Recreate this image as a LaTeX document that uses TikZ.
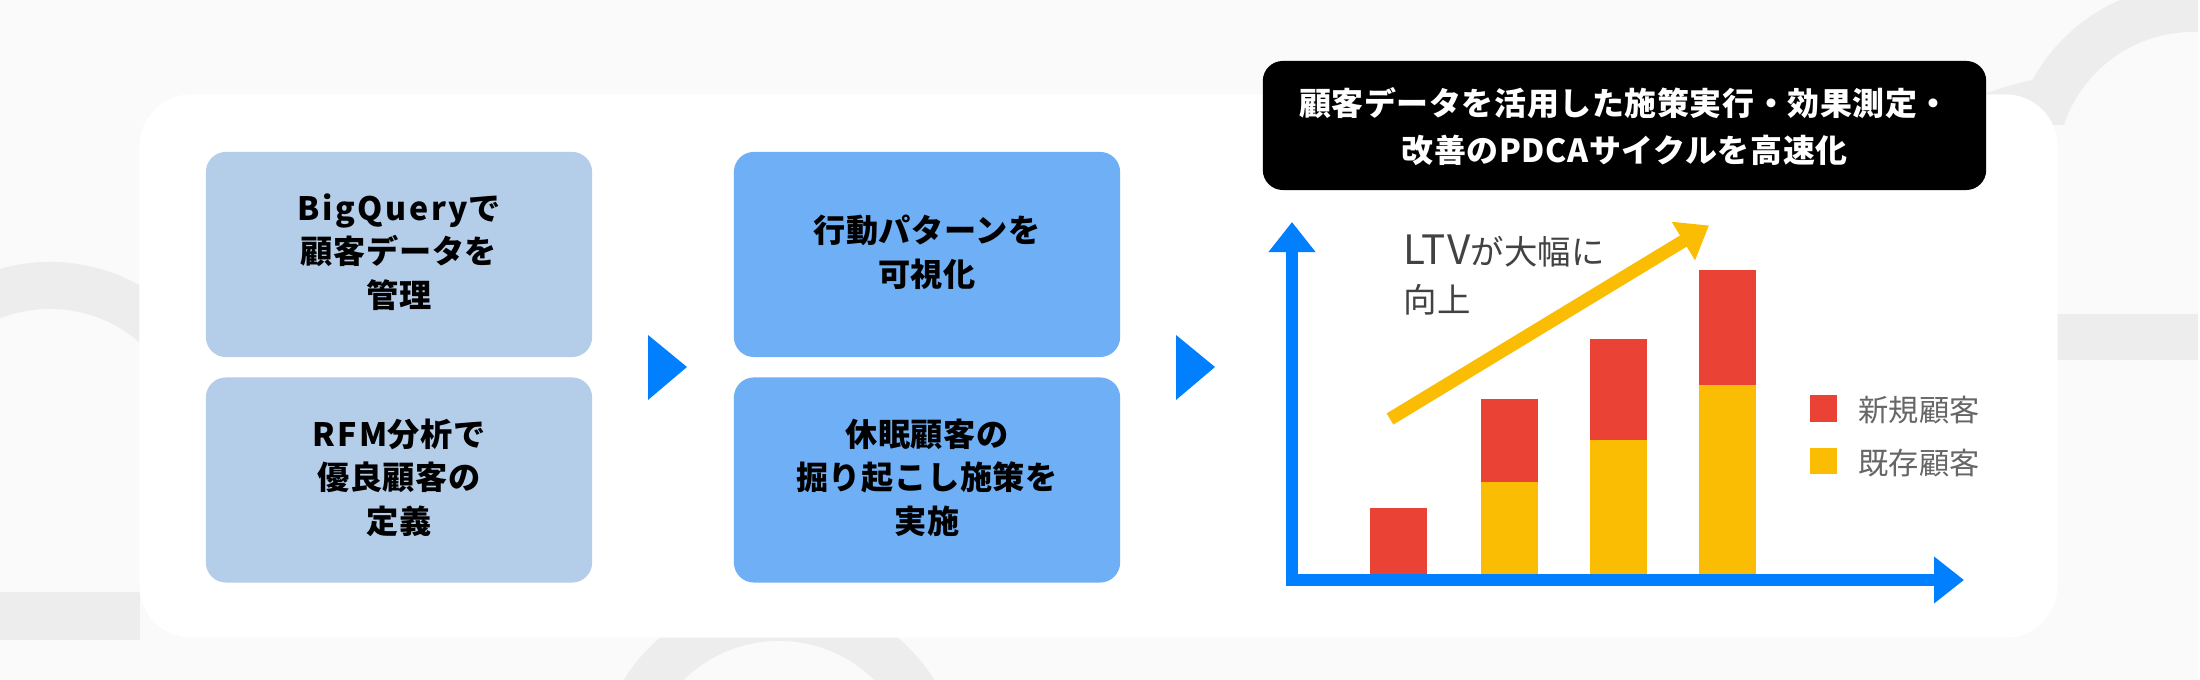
\documentclass[tikz,border=0pt]{standalone}
\usepackage{fontspec}
\usetikzlibrary{arrows.meta}
\setmainfont{Noto Sans CJK JP}
\newfontfamily\boxfont[LetterSpace=2]{Noto Sans CJK JP}
\newfontfamily\widefont[LetterSpace=8]{Noto Sans CJK JP}
\newfontfamily\ltvfont[LetterSpace=4]{Noto Sans CJK JP}
\definecolor{bggray}{HTML}{FAFAFA}
\definecolor{ringgray}{HTML}{EDEDED}
\definecolor{paleblue}{HTML}{B4CDE9}
\definecolor{midblue}{HTML}{6FAFF5}
\definecolor{axisblue}{HTML}{007FFF}
\definecolor{barred}{HTML}{EA4335}
\definecolor{baryellow}{HTML}{FBBC04}
\tikzset{
    ringline/.style={draw=ringgray,line width=0.47cm},
    stepbox/.style={rounded corners=0.2cm,minimum width=3.86cm,minimum height=2.05cm,inner sep=0pt,align=center,text depth=2.2pt,
        font=\boxfont\bfseries\fontsize{9.15}{12.4}\selectfont},
    legendtext/.style={anchor=west,inner sep=0pt,text=black!60,font=\fontsize{8.6}{11}\selectfont},
}
\begin{document}
\begin{tikzpicture}[x=0.01cm,y=-0.01cm]
    \useasboundingbox[fill=bggray] (0,0) rectangle (2200,680);

    \path[fill=ringgray] (0,592) rectangle (140,640);
    \path[fill=ringgray] (2050,314) rectangle (2200,360.5);
    \draw[ringline] ([shift={(130:1.595cm)}]50,445) arc[start angle=130,end angle=40,radius=1.595cm];
    \draw[ringline] ([shift={(170:1.595cm)}]779,777) arc[start angle=170,end angle=10,radius=1.595cm];
    \begin{scope}
        \clip (2000,-10) rectangle (2210,125);
        \draw[ringline] ([shift={(180:1.595cm)}]2193,168) arc[start angle=180,end angle=60,radius=1.595cm];
    \end{scope}
    \path[fill=ringgray] (1985,94) .. controls (2000,88) and (2018,83) .. (2033,80) -- (2060,100) -- (2000,110) -- cycle;
    \path[fill=white] (2198,0) rectangle (2200,680);

    \node[fill=white,rounded corners=0.52cm,minimum width=19.17cm,minimum height=5.43cm,inner sep=0pt] (panel) at (1098.5,366) {};

    \node[stepbox,fill=paleblue] (bigquery) at (399,254.5) {{\widefont\bfseries BigQuery}で\\顧客データを\\管理};
    \node[stepbox,fill=paleblue] (rfm) at (399,480) {{\widefont\bfseries RFM}分析で\\優良顧客の\\定義};
    \node[stepbox,fill=midblue] (pattern) at (927,254.5) {行動パターンを\\可視化};
    \node[stepbox,fill=midblue] (dormant) at (927,480) {休眠顧客の\\掘り起こし施策を\\実施};

    \foreach \x in {648,1176}
        \path[fill=axisblue] (\x,335) -- ++(39,32) -- ++(-39,33) -- cycle;

    \node[fill=black,text=white,rounded corners=0.2cm,minimum width=7.23cm,minimum height=1.29cm,inner sep=0pt,align=center,text depth=0.25pt,
        font=\boxfont\bfseries\fontsize{9.08}{13.6}\selectfont] (headline) at (1624.5,125.5)
        {顧客データを活用した施策実行・効果測定・\\改善のPDCAサイクルを高速化};

    \foreach \l/ \t/ \m in {1370/508/574, 1481/399/482, 1590/339/440, 1699/270/385} {
        \path[fill=barred] (\l,\t) rectangle ++(57,\m-\t);
        \path[fill=baryellow] (\l,\m) rectangle (\l+57,574);
    }

    \coordinate (ytip) at (1292,222);
    \coordinate (origin) at (1292,580);
    \coordinate (xtip) at (1964,580);
    \draw[axisblue,line width=0.115cm,{Triangle[length=0.3cm,width=0.45cm]}-{Triangle[length=0.3cm,width=0.45cm]}] (ytip) -- (origin) -- (xtip);

    \coordinate (trendstart) at (1390,419);
    \coordinate (trendtip) at (1709,225.5);
    \draw[baryellow,line width=0.13cm,-{Triangle[length=0.3cm,width=0.43cm]}] (trendstart) -- (trendtip);

    \node[anchor=west,inner sep=0pt,align=left,text=black!74,font=\fontsize{9.5}{13.5}\selectfont] (ltv) at (1403,275) {{\ltvfont\fontsize{11.5}{13.5}\selectfont LTV}が大幅に\\向上};

    \path[fill=barred] (1810,395) rectangle ++(27,27);
    \path[fill=baryellow] (1810,448) rectangle ++(27,26);
    \node[legendtext] (newcustomer) at (1858,410) {新規顧客};
    \node[legendtext] (existing) at (1858,463) {既存顧客};
\end{tikzpicture}
\end{document}
